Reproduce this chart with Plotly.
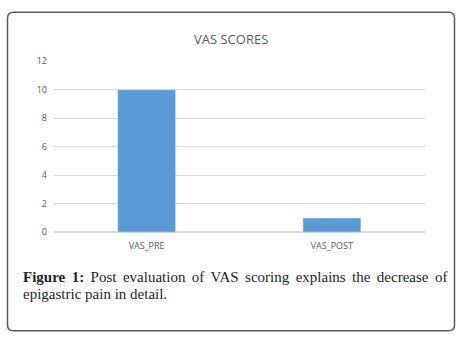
import plotly.graph_objects as go

categories = ["VAS_PRE", "VAS_POST"]
vas_scores = [10, 1]
y_ticks = [0, 2, 4, 6, 8, 10, 12]

W, H = 460, 343
def px(x):
    return x / W
def py(y):
    return 1 - y / H

fig = go.Figure()
fig.add_trace(go.Bar(x=categories, y=vas_scores, marker_color="#5b9bd5",
                     width=0.313, showlegend=False, hoverinfo="skip"))

r = 6
x0, x1, y0, y1 = 7.5, 454.5, 5.5, 336.5
path = (f"M {px(x0+r)},{py(y0)} L {px(x1-r)},{py(y0)} Q {px(x1)},{py(y0)} {px(x1)},{py(y0+r)} "
        f"L {px(x1)},{py(y1-r)} Q {px(x1)},{py(y1)} {px(x1-r)},{py(y1)} "
        f"L {px(x0+r)},{py(y1)} Q {px(x0)},{py(y1)} {px(x0)},{py(y1-r)} "
        f"L {px(x0)},{py(y0+r)} Q {px(x0)},{py(y0)} {px(x0+r)},{py(y0)} Z")

cap_font = dict(family="Liberation Serif", size=15, color="#231f20")

fig.update_layout(
    width=W, height=H,
    margin=dict(l=0, r=0, t=0, b=0),
    paper_bgcolor="white", plot_bgcolor="white",
    xaxis=dict(domain=[54/W, 424.5/W], showgrid=False, showline=False, ticks="",
               ticklabelstandoff=7,
               tickfont=dict(family="Open Sans", size=9, color="#595959")),
    yaxis=dict(domain=[(H-234)/H, (H-56.4)/H], range=[0, 12], tickvals=y_ticks,
               showgrid=True, gridcolor="#d9d9d9", gridwidth=1, zeroline=True,
               zerolinecolor="#d9d9d9", showline=False, ticks="",
               ticklabelstandoff=6,
               tickfont=dict(family="Open Sans", size=9, color="#595959")),
    shapes=[dict(type="path", xref="paper", yref="paper", path=path,
                 line=dict(color="#595959", width=1.5))],
    annotations=[
        dict(text="VAS SCORES", xref="paper", yref="paper", x=px(231), y=py(33),
             xanchor="center", yanchor="middle", showarrow=False,
             font=dict(family="Open Sans", size=13, color="#595959")),
        dict(text="<span style='word-spacing:2.7px'><b>Figure 1:</b> Post evaluation of VAS scoring explains the decrease of</span>",
             xref="paper", yref="paper", x=px(21), y=py(281), xanchor="left", yanchor="middle",
             align="left", showarrow=False, font=cap_font),
        dict(text="epigastric pain in detail.",
             xref="paper", yref="paper", x=px(21), y=py(298), xanchor="left", yanchor="middle",
             align="left", showarrow=False, font=cap_font),
    ],
)
fig.write_html("out.html", config={"displayModeBar": False},
               post_script="document.body.style.margin='0';document.body.style.overflow='hidden';")
